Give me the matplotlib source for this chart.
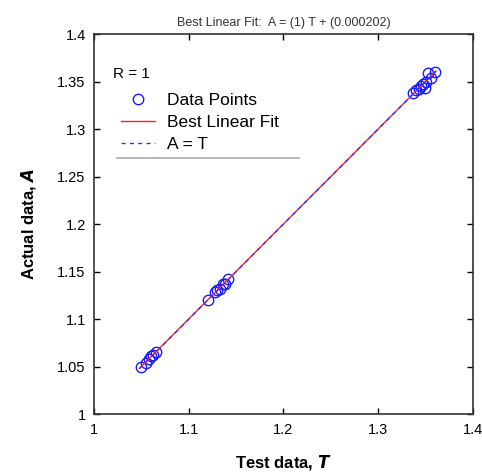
import matplotlib
matplotlib.use("Agg")
import matplotlib.pyplot as plt
import numpy as np
from matplotlib.lines import Line2D

plt.rcParams['font.family'] = ['Liberation Sans', 'DejaVu Sans']

# Data
test_T = [1.050, 1.055, 1.058, 1.060, 1.062, 1.065,
          1.120, 1.128, 1.130, 1.133, 1.136, 1.138, 1.141,
          1.337, 1.340, 1.343, 1.345, 1.347, 1.349, 1.351, 1.353, 1.356, 1.360]
actual_A = [1.050, 1.054, 1.058, 1.061, 1.062, 1.066,
            1.120, 1.129, 1.131, 1.132, 1.137, 1.137, 1.142,
            1.338, 1.341, 1.342, 1.346, 1.348, 1.343, 1.350, 1.359, 1.354, 1.360]
slope = 1.0
intercept = 0.000202
fit_range = [1.048, 1.361]
x_ticks = [1.0, 1.1, 1.2, 1.3, 1.4]
x_ticklabels = ['1', '1.1', '1.2', '1.3', '1.4']
y_ticks = [1.0, 1.05, 1.1, 1.15, 1.2, 1.25, 1.3, 1.35, 1.4]
y_ticklabels = ['1', '1.05', '1.1', '1.15', '1.2', '1.25', '1.3', '1.35', '1.4']

fig = plt.figure(figsize=(4.82, 4.75), dpi=100)
ax = fig.add_axes([0.195, 0.128, 0.786, 0.800])

xf = np.array(fit_range)
pts, = ax.plot(test_T, actual_A, 'o', mfc='none', mec='#1a1aff', mew=1.0, ms=7.5, label='Data Points')
fit, = ax.plot(xf, slope * xf + intercept, '-', color='#ff2020', lw=1.0, label='Best Linear Fit')
ident, = ax.plot(xf, xf, '--', color='#3333ff', lw=1.0, dashes=(3, 3), label='A = T')

ax.set_xlim(1.0, 1.4)
ax.set_ylim(1.0, 1.4)
ax.set_xticks(x_ticks)
ax.set_xticklabels(x_ticklabels)
ax.set_yticks(y_ticks)
ax.set_yticklabels(y_ticklabels)
ax.tick_params(direction='in', top=True, right=True, labelsize=10.5, length=4, width=1, pad=6)
for s in ax.spines.values():
    s.set_linewidth(1.2)
    s.set_color('#333333')

ax.set_title('Best Linear Fit:  A = (1) T + (0.000202)', fontsize=9, color='#333333', pad=6)
ax.set_xlabel(r'Test data, $\boldsymbol{T}$', fontsize=12, fontweight='bold', labelpad=12)
ax.set_ylabel(r'Actual data, $\boldsymbol{A}$', fontsize=12, fontweight='bold', labelpad=14)

ax.text(0.05, 0.895, 'R = 1', transform=ax.transAxes, fontsize=11, va='center', ha='left')
leg = ax.legend(handles=[pts, fit, ident], loc='upper left', bbox_to_anchor=(0.054, 0.865),
                frameon=False, fontsize=12.5, handlelength=1.95, labelspacing=0.42,
                borderaxespad=0, handletextpad=0.65)
ax.add_line(Line2D([0.06, 0.54], [0.675, 0.675], transform=ax.transAxes, color='#aaaaaa', lw=1.2))

fig.savefig('out.png', dpi=100)
